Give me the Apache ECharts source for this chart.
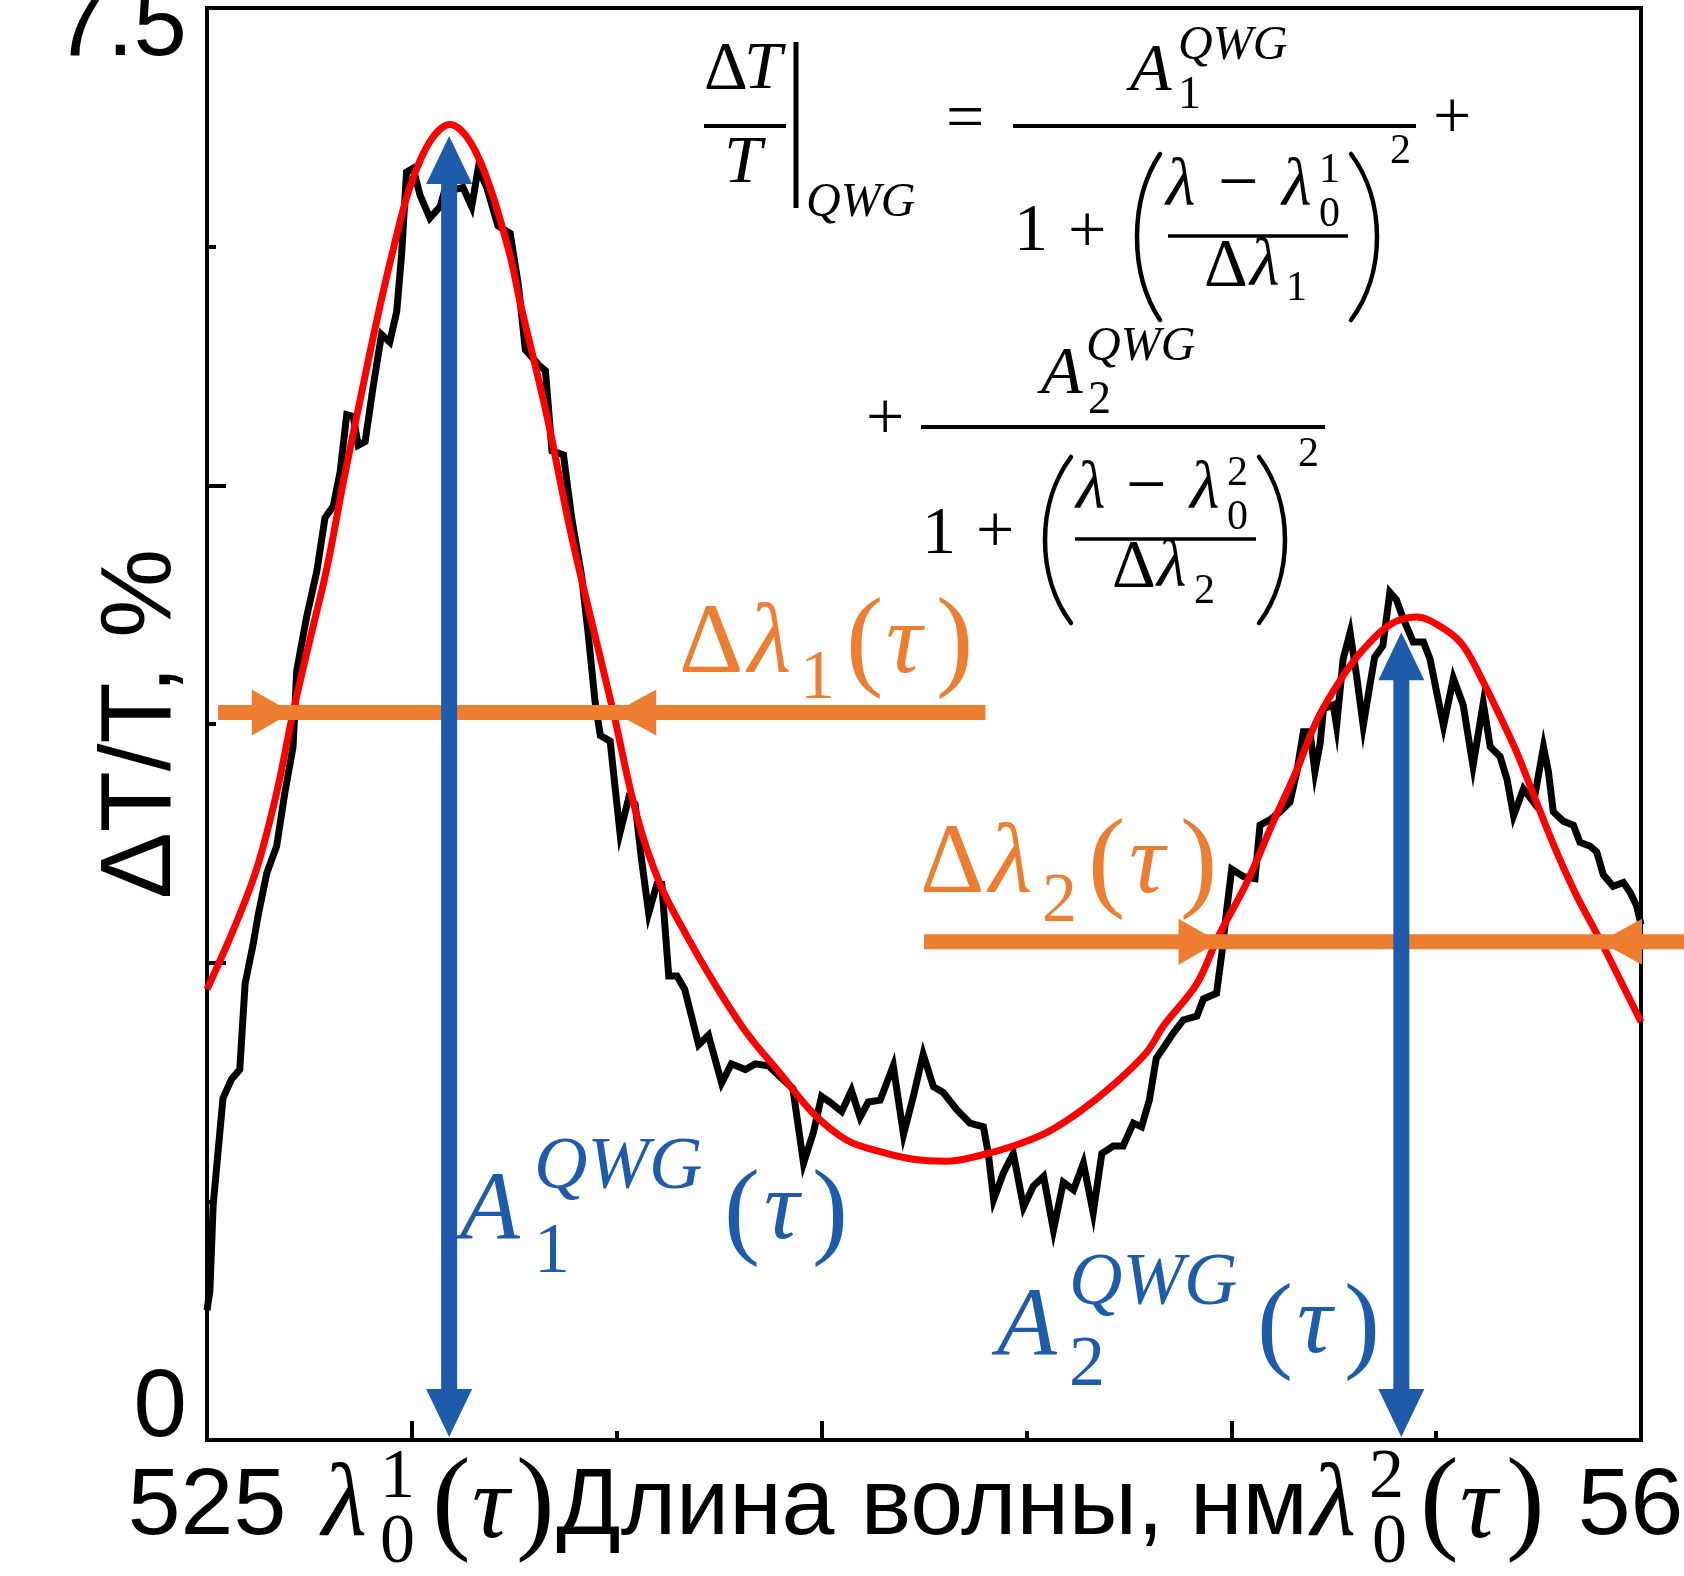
<!DOCTYPE html>
<html><head><meta charset="utf-8">
<script src="https://cdn.jsdelivr.net/npm/echarts@6/dist/echarts.min.js"></script>
<style>html,body{margin:0;padding:0;background:#fff}#c{width:1684px;height:1576px}</style>
</head><body><div id="c"></div>
<script>
// ---- data ----
const measWl = [525.0,525.07,525.15,525.39,525.6,525.8,525.93,526.12,526.25,526.46,
526.7,526.9,527.1,527.19,527.43,527.68,527.88,528.08,528.25,528.41,
528.57,528.69,528.86,529.05,529.26,529.46,529.63,529.75,529.87,530.03,
530.2,530.44,530.69,530.85,531.05,531.25,531.46,531.62,531.83,532.1,
532.4,532.6,532.77,533.1,533.26,533.42,533.7,533.9,534.14,534.3,
534.47,534.6,534.84,534.96,535.08,535.29,535.45,535.6,535.78,535.98,
536.1,536.27,536.47,536.66,537.0,537.24,537.56,537.8,538.14,538.38,
538.7,539.0,539.3,539.56,539.8,540.0,540.2,540.49,540.73,540.94,
541.14,541.43,541.75,542.0,542.24,542.48,542.73,542.97,543.3,543.62,
543.95,544.07,544.2,544.44,544.68,544.93,545.17,545.42,545.66,545.9,
546.15,546.39,546.63,546.84,547.12,547.36,547.61,547.81,548.0,548.17,
548.3,548.58,548.83,549.16,549.32,549.64,549.77,549.89,550.01,550.3,
550.58,550.7,550.95,551.19,551.43,551.6,551.76,551.92,552.04,552.17,
552.25,552.49,552.57,552.73,552.9,553.06,553.22,553.38,553.5,553.7,
553.87,554.03,554.2,554.44,554.69,554.85,555.01,555.18,555.42,555.66,
555.9,556.15,556.32,556.56,556.73,556.89,557.13,557.38,557.62,557.74,
557.86,558.11,558.35,558.51,558.76,558.92,559.08,559.32,559.57,559.73,
559.89,560.0];
const measVal = [0.68,0.78,1.23,1.79,1.89,1.94,2.39,2.59,2.75,2.97,
3.11,3.39,3.63,4.03,4.31,4.55,4.83,4.89,5.07,5.37,
5.36,5.21,5.23,5.51,5.79,5.75,5.91,6.21,6.64,6.66,
6.52,6.40,6.46,6.58,6.55,6.56,6.46,6.66,6.56,6.36,
6.32,6.05,5.71,5.63,5.60,5.18,5.16,4.83,4.53,4.23,
3.87,3.69,3.66,3.42,3.18,3.36,3.33,3.05,2.76,2.91,
2.91,2.43,2.43,2.36,2.07,2.12,1.87,1.97,1.94,1.97,
1.96,1.90,1.84,1.45,1.61,1.80,1.77,1.72,1.83,1.69,
1.77,1.78,1.96,1.60,1.80,2.02,1.85,1.82,1.73,1.66,
1.64,1.50,1.26,1.40,1.50,1.22,1.33,1.38,1.10,1.35,
1.31,1.45,1.19,1.50,1.54,1.54,1.66,1.64,1.78,2.00,
2.04,2.13,2.20,2.22,2.31,2.34,2.55,2.78,2.99,2.95,
2.94,3.22,3.25,3.29,3.34,3.50,3.71,3.71,3.50,3.65,
3.83,3.85,3.74,4.09,4.23,4.00,3.74,3.95,4.10,4.16,
4.44,4.40,4.30,4.18,4.18,4.09,3.92,3.74,3.99,3.85,
3.53,3.86,3.63,3.58,3.46,3.27,3.41,3.34,3.63,3.50,
3.29,3.24,3.22,3.13,3.11,3.08,2.96,2.90,2.92,2.87,
2.80,2.70];
const fitWl = [525.0,525.64,526.21,526.7,527.1,527.51,527.93,528.33,528.74,529.14,
529.55,529.95,530.44,530.93,531.42,531.91,532.4,532.64,533.29,533.86,
534.35,534.92,535.49,536.06,536.71,537.36,538.18,538.99,539.8,540.62,
541.43,542.24,543.05,543.86,544.68,545.49,546.3,547.12,547.93,548.35,
549.16,549.69,550.38,551.03,551.6,552.09,552.66,553.22,553.87,554.52,
555.18,555.66,556.15,556.56,556.97,557.45,557.94,558.43,559.0,559.49,560.0];
const fitVal = [2.36,2.67,2.99,3.39,3.81,4.19,4.57,5.02,5.45,5.86,
6.24,6.56,6.80,6.89,6.80,6.56,6.20,5.96,5.37,4.77,
4.32,3.81,3.27,2.91,2.64,2.40,2.13,1.92,1.71,1.57,
1.51,1.47,1.46,1.49,1.54,1.61,1.72,1.86,2.03,2.17,
2.39,2.64,2.92,3.24,3.51,3.77,3.98,4.14,4.27,4.31,
4.25,4.16,3.97,3.79,3.60,3.34,3.08,2.85,2.62,2.41,2.19];
const xMajorTicks = [530, 540, 550];
const xMinorTicks = [535, 545, 555];
const yMajorTicks = [2.5, 5];
const yMinorTicks = [1.25, 3.75, 6.25];
const xTickLabels = [525, 560];
const yTickLabels = [0, 7.5];
const peakWl = [530.91, 554.15];
const peakAmp = [6.83, 4.23];
const halfLevel = [3.81, 2.61];
const halfLeft = [527.07, 549.69];
const halfRight = [534.94, 559.0];
const barStart = [525.27, 542.5];
const barEnd = [544.0, 561.2];

// ---- styling ----
const BLUE = '#1E5BAA', ORANGE = '#ED7D31', RED = '#FF0000';
const SANS = 'Liberation Sans', SERIF = 'Liberation Serif';

function t(s, x, base, size, it, color) {
  return {type:'text', x:x, y: base - 0.34*size, z:100,
    style:{text:s, fontSize:size, fontFamily:SERIF, fontStyle: it?'italic':'normal',
      fill: color||'#000', align:'left', verticalAlign:'middle'}};
}
function hl(x1, x2, y, w) {
  return {type:'line', z:100, shape:{x1:x1,y1:y,x2:x2,y2:y}, style:{stroke:'#000', lineWidth:w||4}};
}
function vl(x, y1, y2, w) {
  return {type:'line', z:100, shape:{x1:x,y1:y1,x2:x,y2:y2}, style:{stroke:'#000', lineWidth:w||4}};
}
function paren(xl, xr, yt, yb, left) {
  const h = yb - yt;
  let xe, xm;
  if (left) { xe = xr - 2; xm = xl + 2; } else { xe = xl + 2; xm = xr - 2; }
  const c = (xm - 0.25*xe) / 0.75;
  return {type:'bezierCurve', z:100, shape:{x1:xe, y1:yt, x2:xe, y2:yb, cpx1:c, cpy1:yt + h*0.28, cpx2:c, cpy2:yb - h*0.28},
    style:{stroke:'#000', lineWidth:4.5, fill:null, lineCap:'round'}};
}

const G = [
  // formula line 1
  t('Δ', 704, 93, 68), t('T', 744, 93, 68, true), hl(704, 786, 126), t('T', 724, 187, 68, true),
  vl(796, 42, 208, 5), t('QWG', 806, 220, 48, true),
  t('=', 946, 144, 68), hl(1013, 1416, 126),
  t('A', 1130, 95, 68, true), t('QWG', 1178, 63, 48, true), t('1', 1178, 112, 46),
  t('+', 1433, 143, 68),
  t('1', 1014, 255, 68), t('+', 1068, 257, 68),
  paren(1135, 1162, 154, 320, true),
  t('λ', 1166, 210, 68, true), t('−', 1218, 211, 72), t('λ', 1282, 210, 68, true),
  t('1', 1319, 185, 42), t('0', 1319, 229, 42),
  hl(1168, 1348, 236, 3.5),
  t('Δ', 1204, 290, 68), t('λ', 1250, 290, 68, true), t('1', 1286, 303, 42),
  paren(1349, 1379, 154, 320, false), t('2', 1390, 166, 42),
  // formula line 2
  t('+', 866, 444, 68), hl(921, 1325, 427),
  t('A', 1041, 398, 68, true), t('QWG', 1086, 364, 48, true), t('2', 1088, 417, 46),
  t('1', 922, 558, 68), t('+', 976, 557, 68),
  paren(1043, 1073, 457, 623, true),
  t('λ', 1076, 513, 68, true), t('−', 1126, 514, 72), t('λ', 1190, 513, 68, true),
  t('2', 1227, 488, 42), t('0', 1227, 532, 42),
  hl(1075, 1256, 539, 3.5),
  t('Δ', 1112, 591, 68), t('λ', 1157, 591, 68, true), t('2', 1194, 606, 42),
  paren(1257, 1287, 457, 623, false), t('2', 1298, 469, 42),
  // orange labels
  t('Δ', 679, 680, 100, false, ORANGE), t('λ', 748, 680, 100, true, ORANGE), t('1', 800, 703, 70, false, ORANGE),
  t('(', 846, 684, 112, false, ORANGE), t('τ', 886, 680, 100, true, ORANGE), t(')', 936, 684, 112, false, ORANGE),
  t('Δ', 920, 900, 100, false, ORANGE), t('λ', 989, 900, 100, true, ORANGE), t('2', 1042, 926, 70, false, ORANGE),
  t('(', 1088, 905, 112, false, ORANGE), t('τ', 1129, 900, 100, true, ORANGE), t(')', 1180, 905, 112, false, ORANGE),
  // blue labels
  t('A', 460, 1246, 98, true, BLUE), t('QWG', 534, 1194, 74, true, BLUE), t('1', 534, 1278, 72, false, BLUE),
  t('(', 724, 1252, 108, false, BLUE), t('τ', 764, 1246, 98, true, BLUE), t(')', 812, 1252, 108, false, BLUE),
  t('A', 997, 1362, 98, true, BLUE), t('QWG', 1069, 1310, 74, true, BLUE), t('2', 1069, 1391, 72, false, BLUE),
  t('(', 1257, 1366, 108, false, BLUE), t('τ', 1297, 1360, 98, true, BLUE), t(')', 1344, 1366, 108, false, BLUE),
  // x-axis row math labels
  t('λ', 322, 1543, 104, true), t('1', 380, 1502, 70), t('0', 380, 1567, 70),
  t('(', 432, 1547, 116), t('τ', 472, 1545, 104, true), t(')', 516, 1547, 116),
  t('λ', 1311, 1543, 104, true), t('2', 1369, 1502, 70), t('0', 1372, 1567, 70),
  t('(', 1420, 1547, 116), t('τ', 1460, 1545, 104, true), t(')', 1506, 1547, 116)
];

const chart = echarts.init(document.getElementById('c'), null, {renderer:'canvas'});
const axisBase = {type:'value', splitLine:{show:false}};
chart.setOption({
  animation:false,
  backgroundColor:'#fff',
  textStyle:{fontFamily:SANS},
  grid:{left:207, right:43, top:8, bottom:136, show:true, borderColor:'#000', borderWidth:4,
    containLabel:false, outerBoundsMode:'none'},
  xAxis:[
    Object.assign({}, axisBase, {min:525, max:560, position:'bottom',
      axisLine:{show:true, lineStyle:{color:'#000', width:4}},
      axisTick:{show:true, inside:true, length:19, customValues:xMajorTicks, lineStyle:{color:'#000', width:4}},
      axisLabel:{customValues:xTickLabels, margin:20, color:'#000', fontSize:95, fontFamily:SANS,
        formatter: v => v === 560 ? '{r|560}' : '{n|' + v + '}',
        rich:{n:{fontSize:95, fontFamily:SANS, color:'#000'}, r:{fontSize:95, fontFamily:SANS, color:'#000', padding:[0,0,0,32]}}},
      name:'Длина волны, нм', nameLocation:'middle', nameGap:20, nameMoveOverlap:false,
      nameTextStyle:{fontSize:95, fontFamily:SANS, color:'#000', padding:[0,0,0,16]}}),
    Object.assign({}, axisBase, {min:525, max:560, position:'bottom',
      axisLine:{show:false},
      axisTick:{show:true, inside:true, length:9, customValues:xMinorTicks, lineStyle:{color:'#000', width:4}},
      axisLabel:{show:false}})
  ],
  yAxis:[
    Object.assign({}, axisBase, {min:0, max:7.5, position:'left',
      axisLine:{show:true, lineStyle:{color:'#000', width:4}},
      axisTick:{show:true, inside:true, length:19, customValues:yMajorTicks, lineStyle:{color:'#000', width:4}},
      axisLabel:{customValues:yTickLabels, margin:20, color:'#000', fontSize:96, fontFamily:SANS,
        formatter: v => v === 0 ? '{z|0}' : '{s|' + v + '}',
        rich:{z:{fontSize:96, fontFamily:SANS, color:'#000', padding:[0,0,60,0]},
              s:{fontSize:96, fontFamily:SANS, color:'#000', padding:[42,0,0,0]}}},
      name:'ΔT/T, %', nameLocation:'middle', nameGap:15, nameMoveOverlap:false,
      nameTextStyle:{fontSize:100, fontFamily:SANS, color:'#000'}}),
    Object.assign({}, axisBase, {min:0, max:7.5, position:'left',
      axisLine:{show:false},
      axisTick:{show:true, inside:true, length:9, customValues:yMinorTicks, lineStyle:{color:'#000', width:4}},
      axisLabel:{show:false}})
  ],
  series:[
    {type:'line', name:'measured', z:2, symbol:'none', data: measWl.map((w,i)=>[w, measVal[i]]),
      lineStyle:{color:'#000', width:7, join:'miter'}},
    {type:'line', name:'fit', z:3, symbol:'none', smooth:0.35, data: fitWl.map((w,i)=>[w, fitVal[i]]),
      lineStyle:{color:RED, width:7}},
    {type:'custom', name:'widths', z:4, clip:false,
      data: halfLevel.map((lv,i)=>[barStart[i], lv, barEnd[i], halfLeft[i], halfRight[i]]),
      encode:{x:[0,2,3,4], y:1},
      renderItem:(params, api) => {
        const lv = api.value(1);
        const s = api.coord([api.value(0), lv]);
        const e = api.coord([api.value(2), lv]);
        const l = api.coord([api.value(3), lv]);
        const r = api.coord([api.value(4), lv]);
        const y = s[1];
        return {type:'group', children:[
          {type:'line', shape:{x1:s[0], y1:y, x2:e[0], y2:y}, style:{stroke:ORANGE, lineWidth:15}},
          {type:'polygon', shape:{points:[[l[0],y],[l[0]-40,y-23],[l[0]-40,y+23]]}, style:{fill:ORANGE}},
          {type:'polygon', shape:{points:[[r[0],y],[r[0]+42,y-23],[r[0]+42,y+23]]}, style:{fill:ORANGE}}
        ]};
      }},
    {type:'custom', name:'amplitudes', z:5, clip:false,
      data: peakWl.map((w,i)=>[w, peakAmp[i]]),
      encode:{x:0, y:1},
      renderItem:(params, api) => {
        const top = api.coord([api.value(0), api.value(1)]);
        const bot = api.coord([api.value(0), 0]);
        const x = top[0];
        return {type:'group', children:[
          {type:'line', shape:{x1:x, y1:bot[1]-40, x2:x, y2:top[1]+40}, style:{stroke:BLUE, lineWidth:16}},
          {type:'polygon', shape:{points:[[x,top[1]],[x-23,top[1]+48],[x+23,top[1]+48]]}, style:{fill:BLUE}},
          {type:'polygon', shape:{points:[[x,bot[1]-3],[x-23,bot[1]-51],[x+23,bot[1]-51]]}, style:{fill:BLUE}}
        ]};
      }}
  ],
  graphic:{elements:G}
});
</script>
</body></html>
